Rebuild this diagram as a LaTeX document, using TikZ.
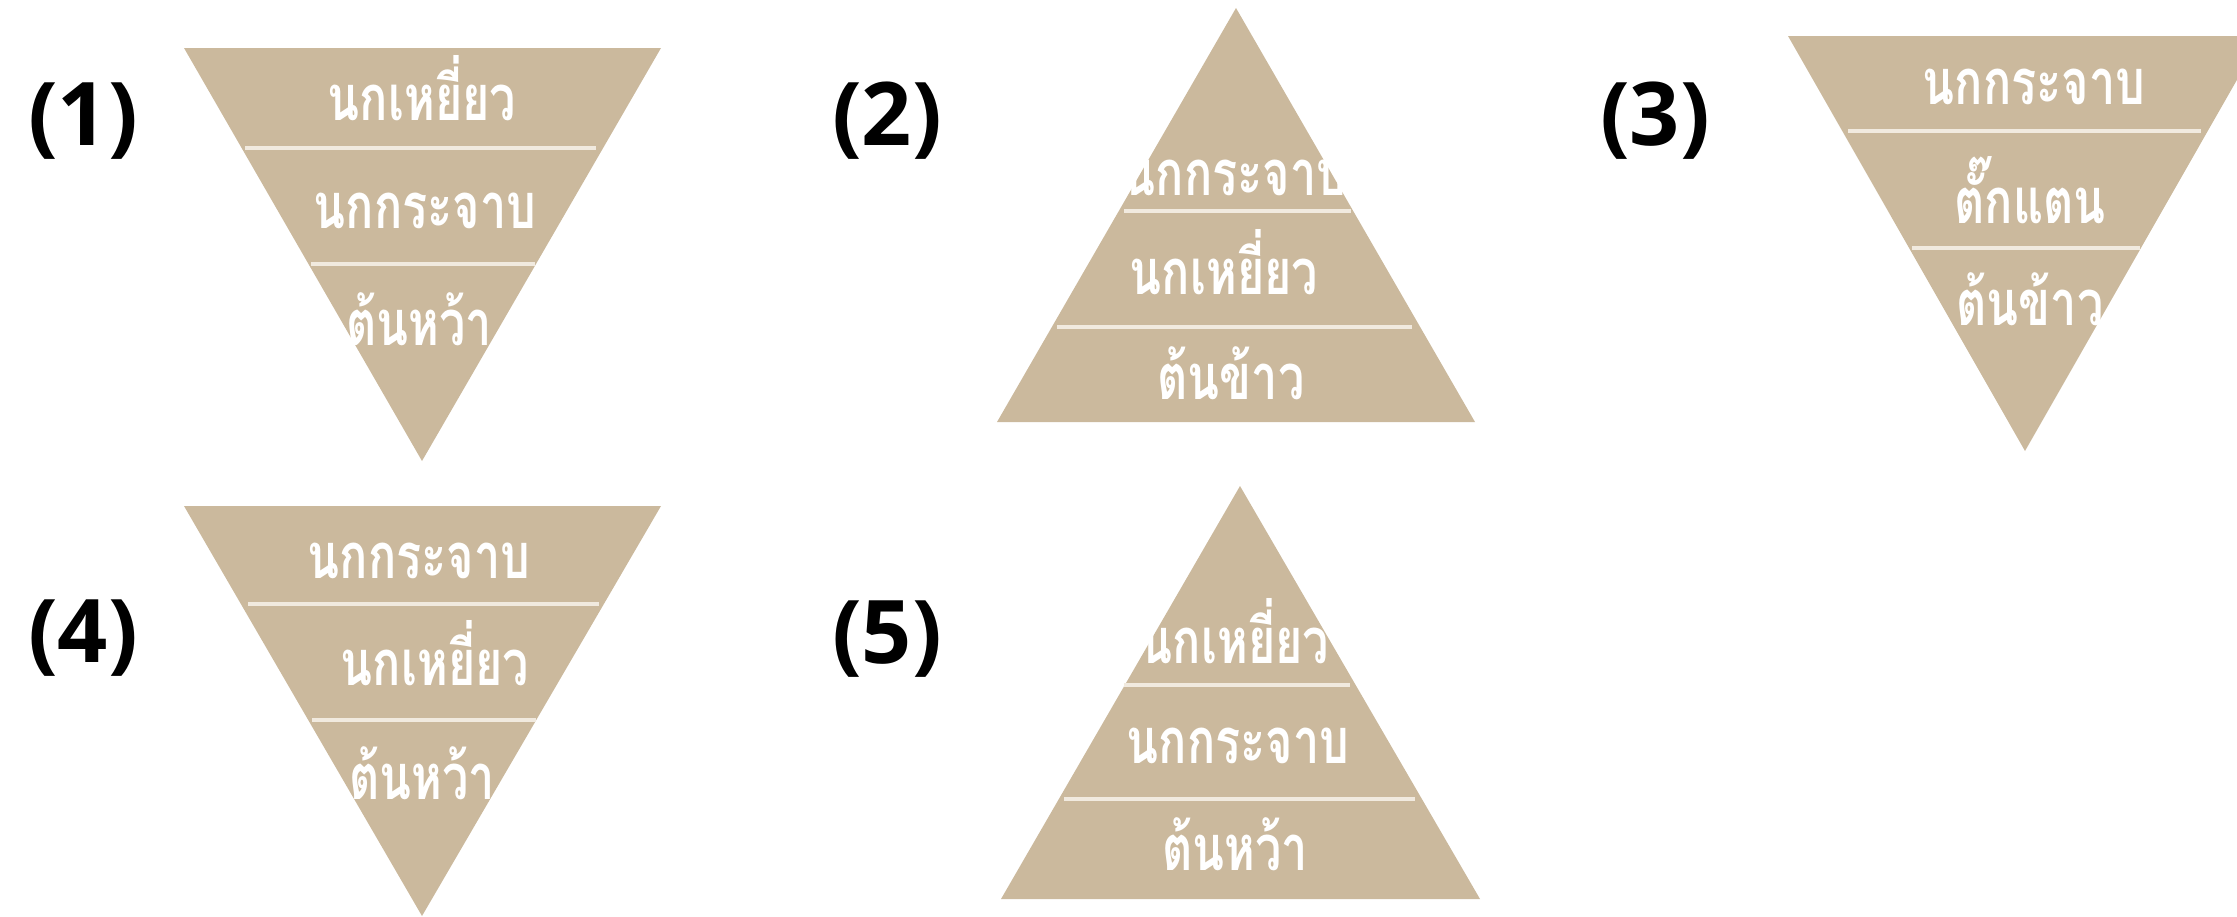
\documentclass[tikz,border=0pt]{standalone}
\usepackage{fontspec}
\newfontfamily\thaifont[Script=Thai, FakeStretch=0.74]{Loma}
\newfontfamily\numfont{Open Sans}[BoldFont={Open Sans Bold}]
\definecolor{tan}{HTML}{CBB99D}
\definecolor{rule}{HTML}{F1EADF}
\tikzset{
  layer/.style={fill=tan, draw=none},
  sep/.style={draw=rule, line width=1.9pt},
  item/.style={text=white, inner sep=0pt, anchor=base,
    font=\thaifont\bfseries\fontsize{36}{42}\selectfont},
  tag/.style={text=black, inner sep=0pt, font=\numfont\bfseries\fontsize{50}{58}\selectfont},
}
\begin{document}
\begin{tikzpicture}[x=0.02cm, y=-0.02cm]
\useasboundingbox (0,0) rectangle (2237,916);
\clip (0,0) rectangle (2237,916);

% (1) inverted pyramid
\node[tag] (t1) at (83,121) {(1)};
\fill[layer] (184,48) -- (661,48) -- (422,461) -- cycle;
\draw[sep] (245,148) -- (596,148);
\draw[sep] (311,264) -- (535,264);
\node[item] (a1) at (422,120) {นกเหยี่ยว};
\node[item] (a2) at (425,228) {นกกระจาบ};
\node[item] (a3) at (419,345) {ต้นหว้า};

% (2) upright pyramid
\node[tag] (t2) at (887,121) {(2)};
\fill[layer] (1236,8) -- (1475,422) -- (997,422) -- cycle;
\draw[sep] (1124,211) -- (1351,211);
\draw[sep] (1057,327) -- (1412,327);
\node[item] (b1) at (1235,195) {นกกระจาบ};
\node[item] (b2) at (1224,294) {นกเหยี่ยว};
\node[item] (b3) at (1231,399) {ต้นข้าว};

% (3) inverted pyramid
\node[tag] (t3) at (1655,121) {(3)};
\fill[layer] (1788,36) -- (2262,36) -- (2025,451) -- cycle;
\draw[sep] (1848,131) -- (2201,131);
\draw[sep] (1912,248) -- (2140,248);
\node[item] (c1) at (2034,104) {นกกระจาบ};
\node[item] (c2) at (2030,223) {ตั๊กแตน};
\node[item] (c3) at (2030,325) {ต้นข้าว};

% (4) inverted pyramid
\node[tag] (t4) at (83,638) {(4)};
\fill[layer] (184,506) -- (661,506) -- (422,916) -- cycle;
\draw[sep] (248,604) -- (599,604);
\draw[sep] (312,720) -- (536,720);
\node[item] (d1) at (419,578) {นกกระจาบ};
\node[item] (d2) at (435,685) {นกเหยี่ยว};
\node[item] (d3) at (422,799) {ต้นหว้า};

% (5) upright pyramid
\node[tag] (t5) at (887,639) {(5)};
\fill[layer] (1240,486) -- (1480,899) -- (1001,899) -- cycle;
\draw[sep] (1124,685) -- (1350,685);
\draw[sep] (1064,799) -- (1415,799);
\node[item] (e1) at (1235,663) {นกเหยี่ยว};
\node[item] (e2) at (1238,763) {นกกระจาบ};
\node[item] (e3) at (1235,870) {ต้นหว้า};
\end{tikzpicture}
\end{document}
